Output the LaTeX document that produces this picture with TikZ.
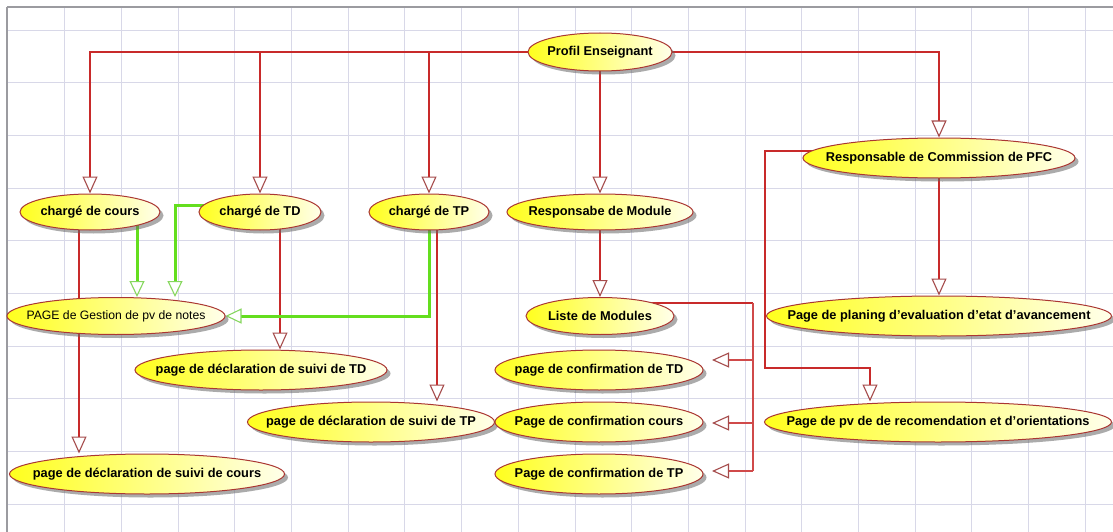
\documentclass[tikz,border=0pt]{standalone}
\usepackage{fontspec}
\setmainfont{Liberation Sans}
\usetikzlibrary{arrows.meta,shapes.geometric,shadows,calc}

\definecolor{gridc}{RGB}{216,216,232}
\definecolor{framec}{RGB}{155,155,160}
\definecolor{linkred}{RGB}{200,42,42}
\definecolor{tipred}{RGB}{165,75,75}
\definecolor{linkgreen}{RGB}{100,222,30}
\definecolor{tipgreen}{RGB}{135,215,95}
\definecolor{ucyellow}{RGB}{255,255,30}
\definecolor{ucpale}{RGB}{255,255,234}
\definecolor{ucborder}{RGB}{170,55,50}

\pgfdeclarelayer{grid}
\pgfdeclarelayer{edges}
\pgfsetlayers{grid,edges,main}

\newcommand\uctext[1]{\makebox[0pt]{#1}}

\tikzset{
  usecase/.style={ellipse, draw=ucborder, line width=1pt,
    left color=ucyellow, right color=ucpale,
    drop shadow={shadow xshift=3.5pt, shadow yshift=-3.5pt, fill=black!60, opacity=0.55},
    inner sep=0pt, minimum height=38pt,
    font=\fontsize{12.8}{14}\selectfont\bfseries},
  usecaseplain/.style={usecase, font=\fontsize{12.2}{14}\selectfont\mdseries},
  redlink/.style={draw=linkred, line width=2.2pt},
  redthin/.style={draw=linkred!85, line width=1.4pt},
  redtip/.style={-{Triangle[length=17pt,width=15pt,color=tipred,fill=white,line width=1.1pt]}},
  greenlink/.style={draw=linkgreen, line width=3pt},
  greentip/.style={-{Triangle[length=16pt,width=15pt,color=tipgreen,fill=white,line width=1.1pt]}},
  gridline/.style={draw=gridc, line width=0.9pt}
}

\begin{document}
\begin{tikzpicture}[x=1pt,y=-1pt]
\useasboundingbox (0,0) rectangle (1113,532);

% squared paper background
\begin{pgfonlayer}{grid}
  \fill[white] (-6,-6) rectangle (1119,538);
  \foreach \i in {1,...,19}
    \draw[gridline] ({8+56.7*\i},7) -- ({8+56.7*\i},540);
  \foreach \j in {0,...,9}
    \draw[gridline] (7,{30+52.7*\j}) -- (1120,{30+52.7*\j});
  \draw[framec, line width=1.3pt] (7,7) -- (1120,7);
  \draw[framec, line width=2.4pt] (7,7) -- (7,540);
\end{pgfonlayer}

% use cases
\node[usecase, minimum width=144pt] (prof) at (600,52) {\uctext{Profil Enseignant}};
\node[usecase, minimum width=140pt, minimum height=36pt] (cours) at (90,212) {\uctext{chargé de cours}};
\node[usecase, minimum width=122pt, minimum height=36pt] (ctd) at (260,212) {\uctext{chargé de TD}};
\node[usecase, minimum width=120pt, minimum height=36pt] (ctp) at (429,212) {\uctext{chargé de TP}};
\node[usecase, minimum width=186pt, minimum height=36pt] (rmod) at (600,212) {\uctext{Responsabe de Module}};
\node[usecase, minimum width=272pt, minimum height=40pt] (rpfc) at (939,158) {\uctext{Responsable de Commission de PFC}};
\node[usecaseplain, minimum width=218pt, minimum height=37pt] (gest) at (116,316) {\uctext{PAGE de Gestion de pv de notes}};
\node[usecase, minimum width=148pt, minimum height=37pt] (lst) at (600,316) {\uctext{Liste de Modules}};
\node[usecase, minimum width=345pt, minimum height=40pt] (plan) at (939,316) {\uctext{Page de planing d'evaluation d'etat d'avancement}};
\node[usecase, minimum width=252pt, minimum height=40pt] (dtd) at (261,370) {\uctext{page de déclaration de suivi de TD}};
\node[usecase, minimum width=208pt, minimum height=40pt] (conftd) at (599,370) {\uctext{page de confirmation de TD}};
\node[usecase, minimum width=247pt, minimum height=40pt] (dtp) at (371,422) {\uctext{page de déclaration de suivi de TP}};
\node[usecase, minimum width=208pt, minimum height=40pt] (confc) at (599,422) {\uctext{Page de confirmation cours}};
\node[usecase, minimum width=347pt, minimum height=40pt] (pv) at (938,422) {\uctext{Page de pv de de recomendation et d'orientations}};
\node[usecase, minimum width=275pt, minimum height=40pt] (dcours) at (147,474) {\uctext{page de déclaration de suivi de cours}};
\node[usecase, minimum width=208pt, minimum height=40pt] (conftp) at (599,474) {\uctext{Page de confirmation de TP}};

% bends and free ends of the connectors
\coordinate (kc) at (79,212);
\coordinate (kd) at (280,212);
\coordinate (kp) at (437,212);
\coordinate (pa) at (765,151);
\coordinate (pb) at (870,368);
\coordinate (bus) at (753,303);
\coordinate (tTD) at (712,360);
\coordinate (tC) at (712,423);
\coordinate (tTP) at (712,471);
\coordinate (g1) at (137,212);
\coordinate (g2) at (175,205);

\begin{pgfonlayer}{edges}
  % teacher profile to its roles
  \draw[redlink, redtip] (prof.center) -| (cours.north);
  \draw[redlink, redtip] (prof.center) -| (ctd.north);
  \draw[redlink, redtip] (prof.center) -| (ctp.north);
  \draw[redlink, redtip] (prof.center) -| (rpfc.north);
  \draw[redlink, redtip] (prof.center) -- (rmod.north);

  % roles to their follow-up pages
  \draw[redlink, redtip] (kc) -- (kc |- dcours.north);
  \draw[redlink, redtip] (kd) -- (kd |- dtd.north);
  \draw[redlink, redtip] (kp) -- (kp |- dtp.north);
  \draw[redlink, redtip] (rmod.center) -- (lst.north);
  \draw[redlink, redtip] (rpfc.center) -- (plan.north);
  \draw[redlink, redtip] (rpfc.center |- pa) -- (pa) |- (pb) -- (pb |- pv.north);

  % module list to the confirmation pages
  \draw[redlink] (lst.center |- bus) -- (bus);
  \draw[redthin] (bus) -- (bus |- tTP);
  \draw[redthin, redtip] (bus |- tTD) -- (tTD);
  \draw[redthin, redtip] (bus |- tC) -- (tC);
  \draw[redthin, redtip] (bus |- tTP) -- (tTP);

  % roles to the marks management page
  \draw[greenlink, greentip] (g1) -- (g1 |- gest.north);
  \draw[greenlink, greentip] (ctd.center |- g2) -- (g2) -- (g2 |- gest.north);
  \draw[greenlink, greentip] (ctp.center) |- (gest.east);
\end{pgfonlayer}
\end{tikzpicture}
\end{document}
